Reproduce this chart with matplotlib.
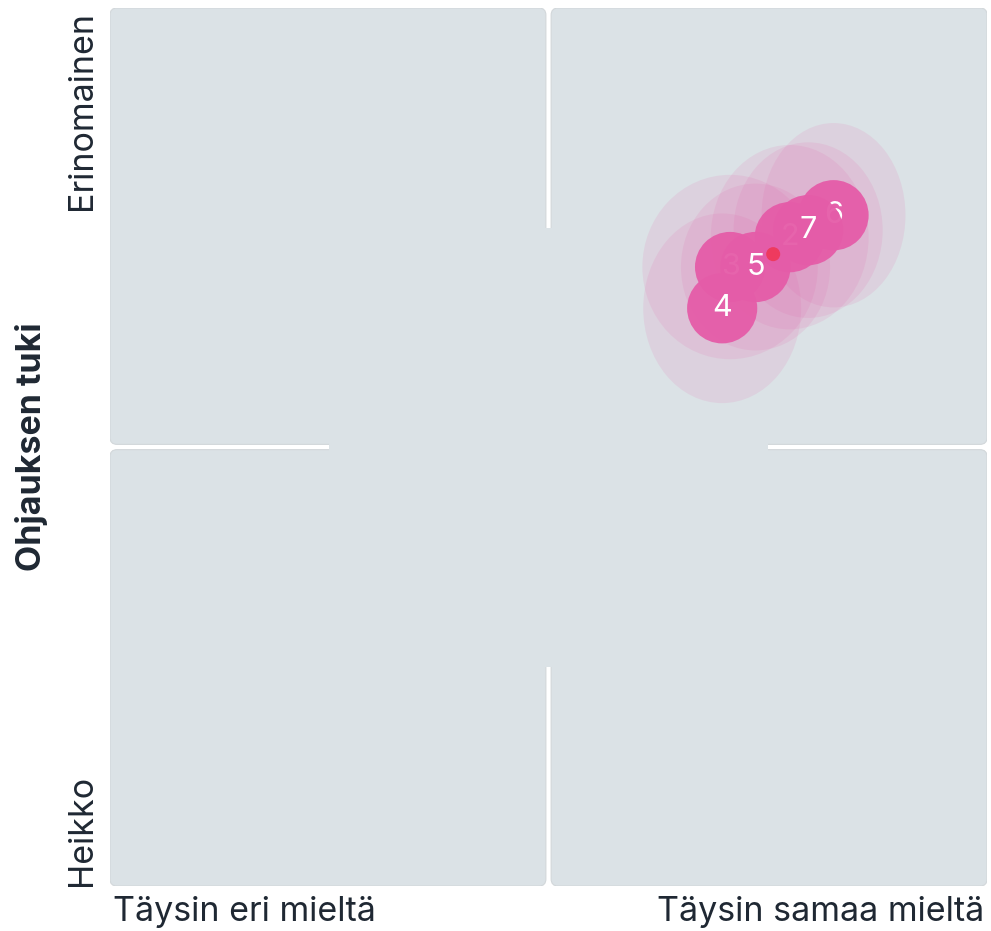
import numpy as np
import matplotlib.pyplot as plt
from matplotlib.patches import Circle, Ellipse, FancyBboxPatch, Rectangle

# Datapisteet (asteikko 0-100)
labels = ["2", "3", "4", "5", "6", "7"]
x_vals = [77.5, 70.7, 69.8, 73.6, 82.5, 79.6]
y_vals = [73.9, 70.5, 65.8, 70.5, 76.4, 74.7]
spread_x = [9.0, 10.0, 9.0, 8.5, 8.2, 8.5]
spread_y = [10.5, 10.5, 10.8, 9.5, 10.5, 10.0]

x_ticklabels = ["Täysin eri mieltä", "Täysin samaa mieltä"]
y_ticklabels = ["Heikko", "Erinomainen"]
y_title = "Ohjauksen tuki"

panel_col = "#dbe2e6"
pink = "#e55ca8"
txt_col = "#1f2833"

plt.rcParams['font.family'] = ['Inter', 'DejaVu Sans']

fig = plt.figure(figsize=(9.91, 9.31), dpi=100)
ax = fig.add_axes([0.111, 0.0483, 0.885, 0.9431])
ax.set_xlim(0, 100)
ax.set_ylim(0, 100)
ax.axis('off')

# Nelikentät
g = 0.3
for x0, y0 in [(0, 0), (50 + g, 0), (0, 50 + g), (50 + g, 50 + g)]:
    ax.add_patch(FancyBboxPatch((x0, y0), 50 - g, 50 - g,
                                boxstyle="round,pad=0,rounding_size=0.8",
                                fc=panel_col, ec="#d2d7da", lw=0.8, zorder=1))
ax.add_patch(Rectangle((25, 25), 50, 50, fc=panel_col, ec='none', zorder=2))

# Hajonta
for x, y, sx, sy in zip(x_vals, y_vals, spread_x, spread_y):
    ax.add_patch(Ellipse((x, y), 2 * sx, 2 * sy, fc=pink, ec='none',
                         alpha=0.12, zorder=3))

# Pallot
z = 4
for lab, x, y in zip(labels, x_vals, y_vals):
    ax.add_patch(Circle((x, y), 4.0, fc=pink, ec='none', alpha=0.95, zorder=z))
    ax.text(x, y, lab, color='white', fontsize=22, ha='center', va='center',
            zorder=z + 0.5)
    z += 1

# Keskiarvo
ax.add_patch(Circle((np.mean(x_vals), np.mean(y_vals)), 0.8, fc="#ee3a5e",
                    ec='none', zorder=z + 1))

# Akselitekstit
fs = 24.5
ax.text(0.003, -0.03, x_ticklabels[0], transform=ax.transAxes, fontsize=fs,
        ha='left', va='center', color=txt_col)
ax.text(0.997, -0.03, x_ticklabels[1], transform=ax.transAxes, fontsize=fs,
        ha='right', va='center', color=txt_col)
ax.text(-0.032, 0.0, y_ticklabels[0], transform=ax.transAxes, fontsize=fs,
        rotation=90, ha='center', va='bottom', color=txt_col)
ax.text(-0.032, 0.997, y_ticklabels[1], transform=ax.transAxes, fontsize=fs,
        rotation=90, ha='center', va='top', color=txt_col)
ax.text(-0.089, 0.5, y_title, transform=ax.transAxes, fontsize=fs,
        fontweight='bold', rotation=90, ha='center', va='center', color=txt_col)

fig.savefig("out.png", dpi=100, facecolor='white')
